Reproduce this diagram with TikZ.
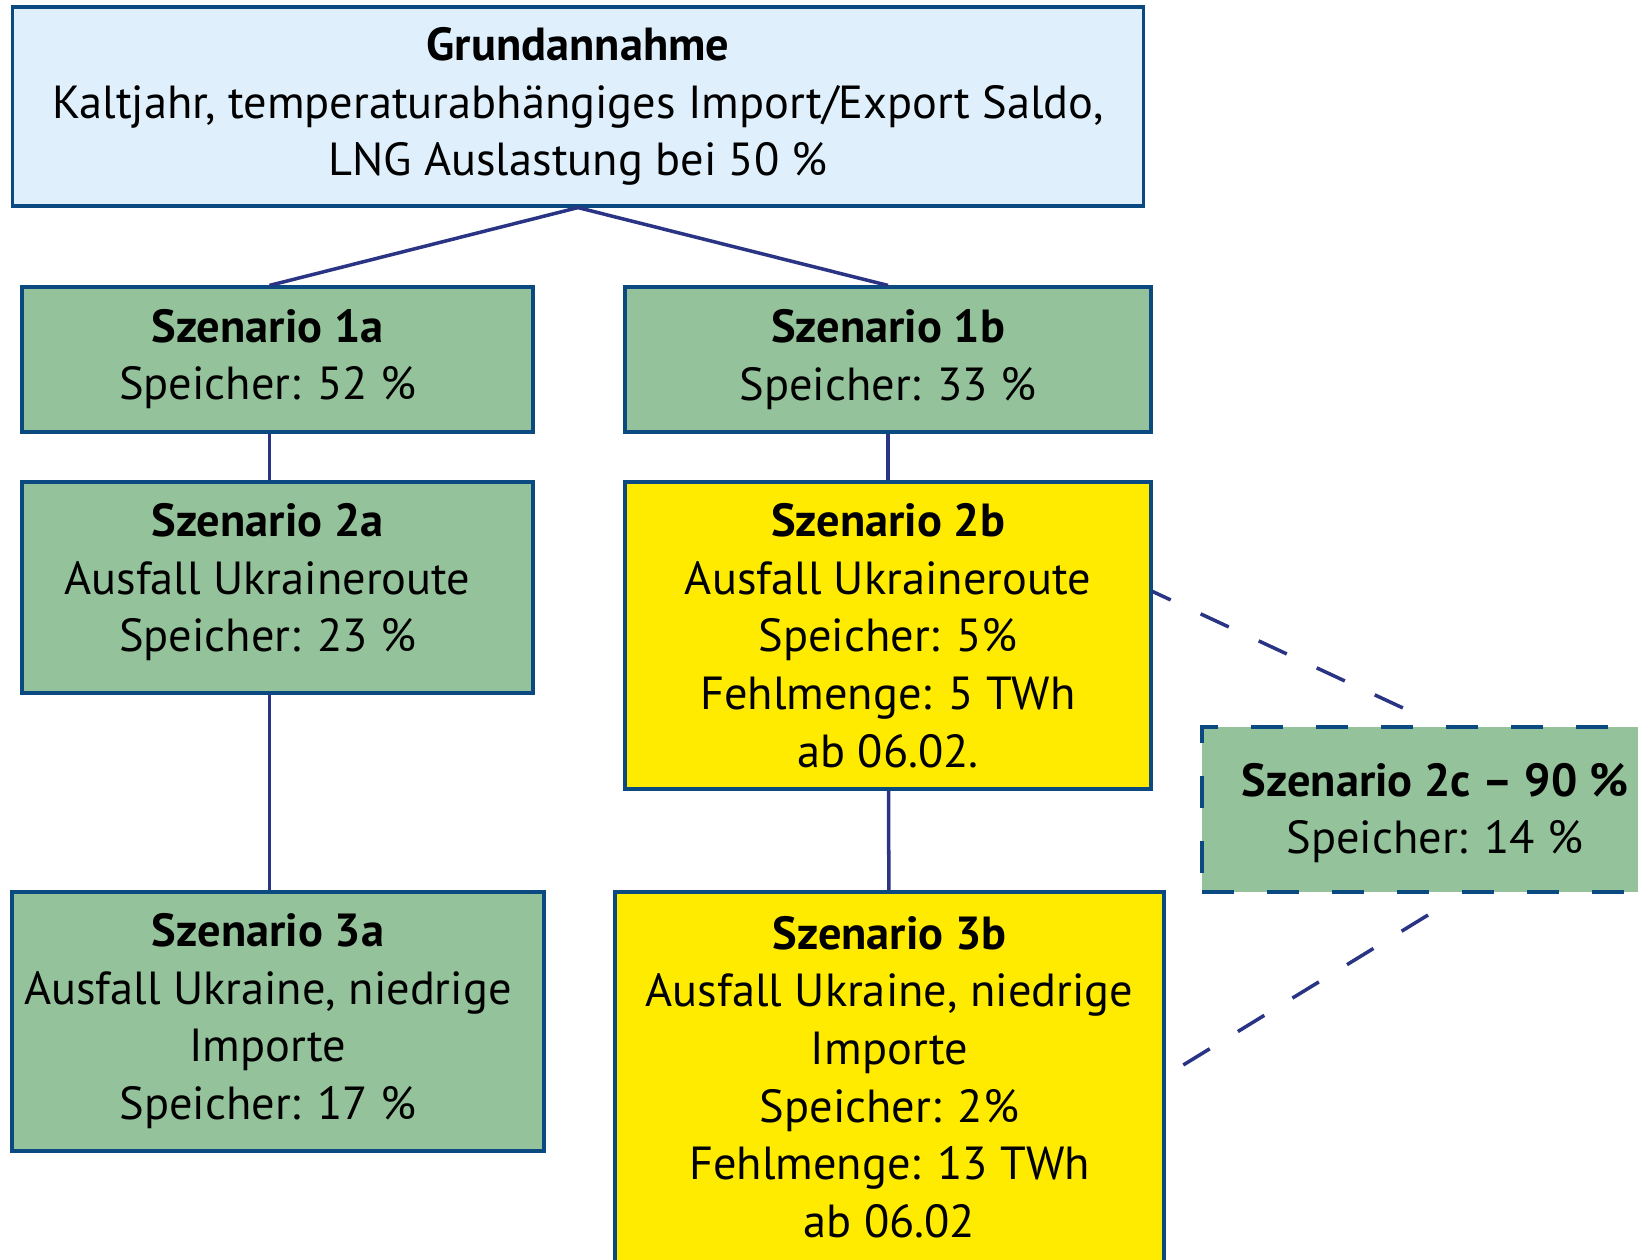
\documentclass[tikz,border=0pt]{standalone}
\usepackage{fontspec}
\setmainfont{PT Sans}
\usetikzlibrary{calc}

\definecolor{rand}{RGB}{11,74,128}
\definecolor{linie}{RGB}{42,52,132}
\definecolor{hellblau}{RGB}{223,240,252}
\definecolor{gruen}{RGB}{148,194,154}
\definecolor{gelb}{RGB}{255,235,0}

% Text der linken Spalte sitzt etwas links der Kastenmitte
\newcommand{\linkstext}[1]{\hspace*{-2mm}\begin{tabular}{@{}c@{}}#1\end{tabular}}

\tikzset{
  box/.style={draw=rand, line width=0.9pt, align=center, inner sep=0pt,
    font=\fontsize{13.2}{16.4}\selectfont},
  grundbox/.style={box, fill=hellblau},
  gruenbox/.style={box, fill=gruen},
  gelbbox/.style={box, fill=gelb},
  link/.style={draw=linie, line width=1pt},
  dashlink/.style={link, dash pattern=on 3.1mm off 3.3mm}
}

\begin{document}
\begin{tikzpicture}[x=0.1mm,y=-0.1mm]
\useasboundingbox (0,0) rectangle (1638,1259);

\node[grundbox, minimum width=113.1mm, minimum height=19.9mm] (grund) at (578,106.5)
  {\textbf{Grundannahme}\\Kaltjahr, temperaturabhängiges Import/Export Saldo,\\LNG Auslastung bei 50 \%};

\node[gruenbox, minimum width=51.1mm, minimum height=14.5mm] (s1a) at (277.5,359.5)
  {\linkstext{\textbf{Szenario 1a}\\Speicher: 52 \%}};
\node[gruenbox, minimum width=52.6mm, minimum height=14.5mm] (s1b) at (888,359.5)
  {\textbf{Szenario 1b}\\Speicher: 33 \%};

\node[gruenbox, minimum width=51.1mm, minimum height=21.1mm] (s2a) at (277.5,587.5)
  {\raisebox{0.5mm}[\height][\depth]{\linkstext{\textbf{Szenario 2a}\\Ausfall Ukraineroute\\Speicher: 23 \%}}};
\node[gelbbox, minimum width=52.6mm, minimum height=30.7mm] (s2b) at (888,635.5)
  {\textbf{Szenario 2b}\\Ausfall Ukraineroute\\Speicher: 5\%\\Fehlmenge: 5 TWh\\ab 06.02.};
\node[gruenbox, dash pattern=on 3.2mm off 3.3mm, minimum width=47.8mm, minimum height=16.5mm] (s2c) at (1441,809.5)
  {\hspace*{-1.2mm}\raisebox{-0.4mm}[\height][\depth]{\begin{tabular}{@{}c@{}}\textbf{Szenario 2c -- 90 \%}\\Speicher: 14 \%\end{tabular}}};

\node[gruenbox, minimum width=53.2mm, minimum height=25.9mm] (s3a) at (278,1021.5)
  {\linkstext{\textbf{Szenario 3a}\\Ausfall Ukraine, niedrige\\Importe\\Speicher: 17 \%}};
\node[gelbbox, minimum width=54.9mm, minimum height=37mm] (s3b) at (889.5,1077)
  {\textbf{Szenario 3b}\\Ausfall Ukraine, niedrige\\Importe\\Speicher: 2\%\\Fehlmenge: 13 TWh\\ab 06.02};

\coordinate (a1) at ($(s1a.north)+(-8,0)$);
\coordinate (a2) at ($(s1a.south)+(-8,0)$);
\coordinate (a3) at ($(s2a.north)+(-8,0)$);
\coordinate (a4) at ($(s2a.south)+(-8,0)$);
\coordinate (a5) at (a4 |- s3a.north);

\draw[link] (grund.south) -- (a1);
\draw[link] (grund.south) -- (s1b.north);
\draw[link] (a2) -- (a3);
\draw[link] (a4) -- (a5);
\draw[link] (s1b) -- (s2b);
\draw[link] (s2b) -- (s3b);

\coordinate (d1) at ($(s2b.east)+(0,-44)$);
\coordinate (d2) at (1403,708);
\coordinate (d3) at (1428,915);
\coordinate (d4) at ($(s3b.east)+(16,-11)$);
\draw[dashlink, dash phase=1.1mm] (d1) -- (d2);
\draw[dashlink] (d3) -- (d4);

\end{tikzpicture}
\end{document}
